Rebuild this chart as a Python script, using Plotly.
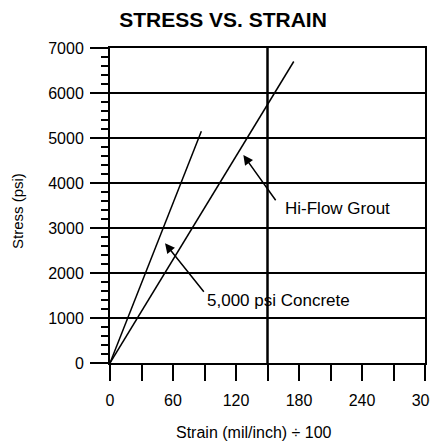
import plotly.graph_objects as go

# Data
strain_concrete = [0, 87]
stress_concrete = [0, 5150]
strain_grout = [0, 175]
stress_grout = [0, 6700]

x_tick_vals = [0, 60, 120, 180, 240, 300]
x_tick_text = ["0", "60", "120", "180", "240", "300"]
y_tick_vals = [0, 1000, 2000, 3000, 4000, 5000, 6000, 7000]

label_concrete = "5,000 psi Concrete"
label_grout = "Hi-Flow Grout"

FONT = "Liberation Sans, Arial, Helvetica, sans-serif"

# page body has an 8px margin; compensate
OFF = 8
W, H = 438 - OFF, 443 - OFF

fig = go.Figure()
fig.add_trace(go.Scatter(x=strain_concrete, y=stress_concrete, mode="lines",
                         line=dict(color="black", width=1.5), showlegend=False,
                         name=label_concrete))
fig.add_trace(go.Scatter(x=strain_grout, y=stress_grout, mode="lines",
                         line=dict(color="black", width=1.5), showlegend=False,
                         name=label_grout))

# vertical line at 150
fig.add_shape(type="line", x0=150, x1=150, y0=0, y1=7000, xref="x", yref="y",
              line=dict(color="black", width=2.5))

# arrows
fig.add_annotation(x=127, y=4622, ax=158.8, ay=3584, axref="x", ayref="y",
                   xref="x", yref="y", text="", showarrow=True,
                   arrowhead=2, arrowsize=1.3, arrowwidth=1.5, arrowcolor="black")
fig.add_annotation(x=52.4, y=2660, ax=90.5, ay=1549, axref="x", ayref="y",
                   xref="x", yref="y", text="", showarrow=True,
                   arrowhead=2, arrowsize=1.3, arrowwidth=1.5, arrowcolor="black")

# labels
fig.add_annotation(x=164.8, y=3444, xref="x", yref="y", text=label_grout,
                   showarrow=False, xanchor="left", yanchor="middle",
                   font=dict(size=17, color="black", family=FONT))
fig.add_annotation(x=90.5, y=1400, xref="x", yref="y", text=label_concrete,
                   showarrow=False, xanchor="left", yanchor="middle",
                   font=dict(size=17, color="black", family=FONT))

# axis titles
fig.add_annotation(x=(254 - 110) / 315, y=(363 - 432) / 315, xref="paper", yref="paper",
                   text="Strain (mil/inch) ÷ 100", showarrow=False,
                   xanchor="center", yanchor="middle",
                   font=dict(size=16, color="black", family=FONT))
fig.add_annotation(x=(18 - 110) / 315, y=(363 - 211) / 315, xref="paper", yref="paper",
                   text="Stress (psi)", showarrow=False, textangle=-90,
                   xanchor="center", yanchor="middle", borderpad=0,
                   font=dict(size=15, color="black", family=FONT))

fig.update_layout(
    width=W, height=H,
    margin=dict(l=110 - OFF, r=13, t=48 - OFF, b=80),
    paper_bgcolor="white", plot_bgcolor="white",
    font=dict(family=FONT, color="black", size=16),
    title=dict(text="<b>STRESS VS. STRAIN</b>", x=(223 - OFF) / W, xanchor="center",
               y=1 - (20 - OFF) / H, yanchor="middle", yref="container",
               font=dict(size=21, color="black", family=FONT)),
    xaxis=dict(range=[0, 300], tickvals=x_tick_vals, ticktext=x_tick_text,
               showgrid=False, zeroline=False, showline=True, linecolor="black",
               linewidth=2, mirror=True, ticks="outside", ticklen=16, tickwidth=2,
               tickcolor="black", ticklabeloverflow="allow", automargin=False,
               ticklabelstandoff=6, tickfont=dict(size=16),
               minor=dict(dtick=30, tick0=0, ticks="outside", ticklen=16,
                          tickwidth=2, tickcolor="black", showgrid=False)),
    yaxis=dict(range=[0, 7000], tickvals=y_tick_vals, showgrid=True,
               gridcolor="black", gridwidth=1.8, zeroline=False, showline=True,
               linecolor="black", linewidth=2, mirror=True, ticks="outside",
               ticklen=18, tickwidth=2, tickcolor="black", automargin=False,
               ticklabelstandoff=3, tickfont=dict(size=16),
               minor=dict(dtick=200, tick0=0, ticks="outside", ticklen=7,
                          tickwidth=1.5, tickcolor="black", showgrid=False)),
)

fig.write_html("out.html")
